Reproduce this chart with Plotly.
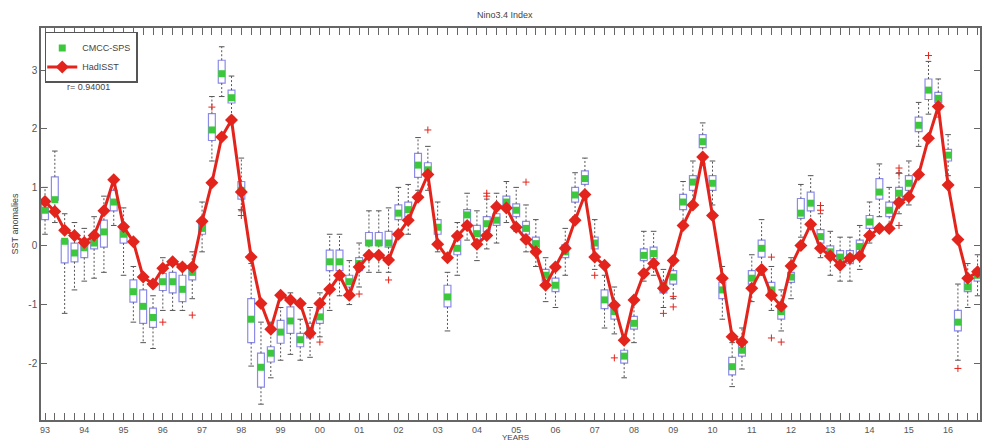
import plotly.graph_objects as go

# ---------------- data ----------------
year_labels = ["93", "94", "95", "96", "97", "98", "99", "00", "01", "02", "03", "04",
               "05", "06", "07", "08", "09", "10", "11", "12", "13", "14", "15", "16"]

hadisst = [0.76, 0.59, 0.27, 0.18, 0.06, 0.18, 0.60, 1.13, 0.33, 0.07, -0.53, -0.65,
           -0.38, -0.27, -0.36, -0.36, 0.42, 1.08, 1.86, 2.15, 0.92, -0.19, -0.98, -1.42,
           -0.84, -0.92, -0.98, -1.49, -0.98, -0.74, -0.50, -0.84, -0.36, -0.16, -0.16, -0.24,
           0.20, 0.44, 0.83, 1.22, 0.03, -0.20, 0.17, 0.35, 0.03, 0.18, 0.67, 0.65,
           0.32, 0.11, -0.10, -0.67, -0.36, -0.04, 0.44, 0.88, -0.19, -0.33, -1.01, -1.61,
           -0.92, -0.47, -0.30, -0.72, -0.25, 0.35, 0.70, 1.52, 0.52, -0.55, -1.55, -1.64,
           -0.72, -0.40, -0.84, -1.03, -0.34, 0.01, 0.37, -0.04, -0.17, -0.33, -0.21, -0.17,
           0.18, 0.30, 0.30, 0.74, 0.84, 1.22, 1.84, 2.38, 1.04, 0.11, -0.55, -0.44]

cmcc_mean = [0.61, 0.79, 0.08, -0.12, -0.03, 0.05, 0.24, 0.75, 0.20, -0.78, -1.03, -1.22,
             -0.61, -0.61, -0.74, -0.45, 0.30, 1.98, 2.94, 2.53, 0.95, -1.25, -2.07, -1.83,
             -1.47, -1.28, -1.60, -1.45, -1.21, -0.27, -0.27, -0.61, -0.30, 0.05, 0.05, 0.05,
             0.56, 0.62, 1.38, 1.30, 0.32, -0.87, -0.04, 0.53, 0.21, 0.38, 0.44, 0.75,
             0.61, 0.30, 0.04, -0.50, -0.67, -0.10, 0.87, 1.15, 0.05, -0.92, -1.12, -1.88,
             -1.32, -0.16, -0.13, -0.70, -0.53, 0.75, 1.09, 1.78, 1.07, -0.75, -2.06, -1.78,
             -0.55, -0.04, -0.75, -1.12, -0.53, 0.56, 0.73, 0.16, -0.10, -0.19, -0.19, -0.01,
             0.41, 0.92, 0.61, 0.90, 1.07, 2.06, 2.66, 2.52, 1.55, -1.30, -0.70, -0.50]

box_low = [0.45, 0.78, -0.29, -0.27, -0.20, -0.05, -0.02, 0.60, 0.05, -0.96, -1.32, -1.39,
           -0.76, -0.80, -0.95, -0.58, 0.20, 1.80, 2.78, 2.44, 0.80, -1.65, -2.41, -1.98,
           -1.66, -1.49, -1.72, -1.57, -1.32, -0.42, -0.42, -0.70, -0.42, 0.01, 0.01, -0.02,
           0.45, 0.50, 1.17, 1.20, 0.20, -1.04, -0.15, 0.35, 0.10, 0.25, 0.35, 0.65,
           0.50, 0.20, -0.05, -0.60, -0.78, -0.20, 0.75, 1.05, -0.05, -1.07, -1.25, -2.00,
           -1.42, -0.25, -0.22, -0.80, -0.65, 0.62, 0.95, 1.68, 0.95, -0.90, -2.20, -1.88,
           -0.65, -0.19, -0.85, -1.25, -0.62, 0.47, 0.60, 0.05, -0.20, -0.30, -0.30, -0.12,
           0.30, 0.80, 0.50, 0.80, 0.95, 1.95, 2.50, 2.45, 1.45, -1.45, -0.78, -0.60]

box_high = [0.73, 1.18, 0.10, 0.05, 0.02, 0.18, 0.44, 0.95, 0.30, -0.58, -0.75, -1.06,
            -0.47, -0.45, -0.50, -0.38, 0.45, 2.26, 3.17, 2.66, 1.10, -0.90, -1.83, -1.72,
            -1.27, -1.04, -1.49, -1.32, -1.05, -0.07, -0.07, -0.50, -0.20, 0.23, 0.23, 0.25,
            0.70, 0.75, 1.58, 1.42, 0.45, -0.67, 0.10, 0.62, 0.35, 0.50, 0.55, 0.85,
            0.72, 0.42, 0.15, -0.40, -0.55, 0.02, 1.00, 1.28, 0.15, -0.75, -0.98, -1.78,
            -1.20, -0.05, -0.02, -0.60, -0.42, 0.88, 1.20, 1.90, 1.20, -0.62, -1.90, -1.65,
            -0.42, 0.10, -0.62, -1.00, -0.45, 0.81, 0.92, 0.28, 0.00, -0.08, -0.08, 0.10,
            0.52, 1.15, 0.75, 1.00, 1.20, 2.20, 2.85, 2.62, 1.65, -1.10, -0.55, -0.40]

whisk_low = [0.20, 0.40, -1.15, -0.75, -0.60, -0.55, -0.45, 0.35, -0.50, -1.30, -1.65, -1.75,
             -1.10, -1.10, -1.10, -0.90, -0.10, 1.45, 2.55, 2.20, 0.60, -2.05, -2.70, -2.25,
             -1.95, -1.85, -1.95, -1.90, -1.55, -1.10, -0.85, -1.00, -0.70, -0.45, -0.45, -0.45,
             0.20, 0.20, 0.95, 0.95, -0.10, -1.45, -0.50, 0.10, -0.25, -0.05, 0.05, 0.40,
             0.25, -0.10, -0.35, -0.95, -1.05, -0.50, 0.50, 0.80, -0.40, -1.40, -1.50, -2.25,
             -1.65, -0.60, -0.50, -1.05, -0.90, 0.35, 0.70, 1.40, 0.70, -1.25, -2.40, -2.10,
             -0.95, -0.50, -1.10, -1.45, -0.90, 0.15, 0.30, -0.20, -0.50, -0.60, -0.60, -0.40,
             0.05, 0.50, 0.25, 0.55, 0.70, 1.70, 2.25, 2.20, 1.20, -1.95, -1.05, -0.85]

whisk_high = [1.00, 1.62, 0.55, 0.40, 0.30, 0.50, 0.85, 1.15, 0.65, -0.35, -0.50, -0.85,
              -0.20, -0.25, -0.30, -0.10, 0.75, 2.55, 3.40, 2.90, 1.50, -0.30, -1.30, -1.30,
              -1.05, -0.80, -1.25, -1.05, -0.80, 0.20, 0.20, -0.25, 0.05, 0.60, 0.60, 0.65,
              1.00, 1.05, 1.85, 1.70, 0.75, -0.45, 0.40, 0.90, 0.60, 0.80, 0.90, 1.10,
              1.00, 0.70, 0.45, -0.20, -0.35, 0.30, 1.25, 1.50, 0.45, -0.50, -0.70, -1.55,
              -0.95, 0.25, 0.25, -0.40, -0.20, 1.10, 1.45, 2.10, 1.45, -0.35, -1.65, -1.40,
              -0.15, 0.45, -0.35, -0.75, -0.20, 1.05, 1.20, 0.55, 0.25, 0.15, 0.15, 0.35,
              0.75, 1.40, 1.00, 1.25, 1.45, 2.45, 3.15, 2.85, 1.90, -0.65, -0.30, -0.15]

outlier_idx = [20, 20, 15, 12, 28, 35, 32, 39, 45, 45, 49, 56, 58, 63, 64, 64,
               74, 75, 79, 79, 87, 87, 87, 90, 93, 17, 74]
outlier_val = [0.52, 0.62, -1.18, -1.30, -1.64, -0.58, -0.82, 1.98, 0.90, 0.85, 1.09, -0.50,
               -1.91, -1.15, -0.86, -1.04, -1.57, -1.64, 0.69, 0.61, 1.33, 1.24, 0.35, 3.25,
               -2.09, 2.37, -0.19]

correlation_text = "r= 0.94001"

# ---------------- figure ----------------
n = len(hadisst)
idx = list(range(n))

RED = "#e3241c"
GREEN = "#3cc83c"
BOXC = "#8c8ce8"
GRAY = "#666666"

fig = go.Figure()

# whiskers (dashed)
wx, wy = [], []
for i in idx:
    wx += [i, i, None, i, i, None]
    wy += [box_high[i], whisk_high[i], None, box_low[i], whisk_low[i], None]
fig.add_trace(go.Scatter(x=wx, y=wy, mode="lines",
                         line=dict(color="#555555", width=1, dash="2px,2px"),
                         showlegend=False, hoverinfo="skip"))
# whisker caps
fig.add_trace(go.Scatter(x=idx + idx, y=whisk_high + whisk_low, mode="markers",
                         marker=dict(symbol="line-ew", size=4,
                                     line=dict(color="#555555", width=1)),
                         showlegend=False, hoverinfo="skip"))

# boxes (interquartile range)
fig.add_trace(go.Box(x=idx, q1=box_low, q3=box_high, median=cmcc_mean,
                     lowerfence=box_low, upperfence=box_high,
                     boxpoints=False, width=0.7,
                     line=dict(color=BOXC, width=1.2),
                     fillcolor="rgba(255,255,255,0)",
                     showlegend=False, hoverinfo="skip"))

# outliers
fig.add_trace(go.Scatter(x=outlier_idx, y=outlier_val, mode="markers",
                         marker=dict(symbol="cross-thin", size=5,
                                     line=dict(color=RED, width=1)),
                         showlegend=False, hoverinfo="skip"))

# CMCC-SPS ensemble mean
fig.add_trace(go.Scatter(x=idx, y=cmcc_mean, mode="markers", name="CMCC-SPS",
                         marker=dict(symbol="square", size=7, color=GREEN)))

# HadISST
fig.add_trace(go.Scatter(x=idx, y=hadisst, mode="lines+markers", name="HadISST",
                         line=dict(color=RED, width=3),
                         marker=dict(symbol="diamond", size=10, color=RED)))

tickvals = idx
ticktext = [year_labels[i // 4] if i % 4 == 0 else "" for i in idx]

fig.update_layout(
    width=984, height=441,
    margin=dict(l=41, r=2, t=28, b=21),
    paper_bgcolor="white", plot_bgcolor="white",
    font=dict(family="Liberation Sans, Arial, sans-serif", size=10, color="#444444"),
    title=dict(text="Nino3.4 Index", x=0.513, xanchor="center",
               y=1 - 15 / 441, yanchor="middle", yref="container",
               font=dict(size=9, color="#444444")),
    showlegend=True,
    legend=dict(x=0.004, y=0.99, xanchor="left", yanchor="top",
                bordercolor="#555555", borderwidth=1.5, bgcolor="white",
                font=dict(size=9, color="#444444"),
                tracegroupgap=0, itemwidth=30, indentation=-4),
    xaxis=dict(range=[-0.41, 95.25], tickvals=tickvals, ticktext=ticktext,
               ticks="inside", ticklen=7, tickwidth=1, tickcolor=GRAY,
               showline=True, linecolor=GRAY, linewidth=1.5, mirror="ticks",
               showgrid=False, zeroline=False,
               tickfont=dict(size=9, color="#555555")),
    yaxis=dict(range=[-2.97, 3.72], tickvals=[-2, -1, 0, 1, 2, 3],
               ticktext=["-2", "-1", "0", "1", "2", "3"],
               ticks="inside", ticklen=6, tickwidth=1, tickcolor=GRAY,
               showline=True, linecolor=GRAY, linewidth=1.5, mirror="ticks",
               showgrid=False, zeroline=False,
               title=dict(text="SST anomalies", font=dict(size=9, color="#444444"),
                          standoff=8),
               tickfont=dict(size=10, color="#555555")),
    annotations=[
        dict(text=correlation_text, xref="paper", yref="paper",
             x=0.026, y=0.85, xanchor="left", yanchor="middle",
             showarrow=False, font=dict(size=9, color="#444444")),
        dict(text="YEARS", xref="paper", yref="paper",
             x=0.505, y=-0.0446, xanchor="center", yanchor="middle",
             showarrow=False, font=dict(size=8, color="#444444")),
    ],
)

fig.write_html("out.html")
